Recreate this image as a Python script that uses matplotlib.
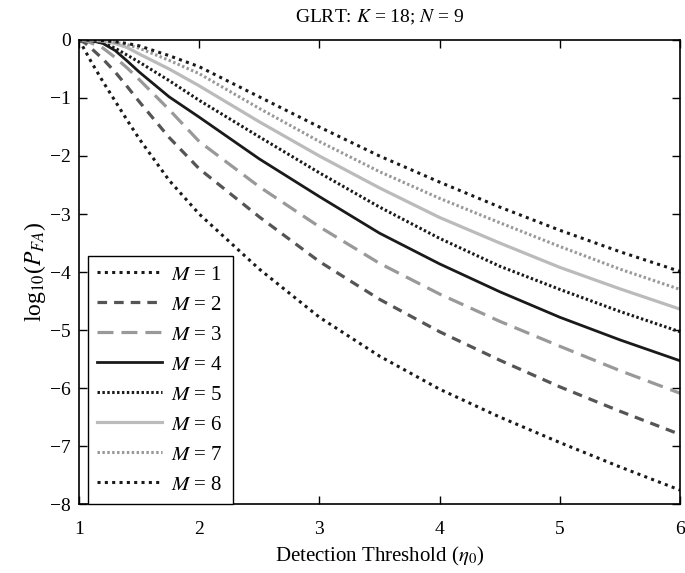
import matplotlib
matplotlib.use('Agg')
import matplotlib.pyplot as plt

plt.rcParams['font.family'] = ['Liberation Serif', 'DejaVu Serif']
plt.rcParams['mathtext.fontset'] = 'stix'

# Detection threshold grid and log10(P_FA)
eta = [1, 1.05, 1.1, 1.2, 1.3, 1.4, 1.5, 1.75, 2, 2.5, 3, 3.5, 4, 4.5, 5, 5.5, 6]
pfa_m1 = [0, -0.18, -0.37, -0.72, -1.05, -1.38, -1.7, -2.42, -3.0, -3.95, -4.78, -5.45, -6.02, -6.5, -6.94, -7.36, -7.76]
pfa_m2 = [0, -0.05, -0.14, -0.33, -0.55, -0.8, -1.06, -1.68, -2.22, -3.05, -3.82, -4.47, -5.03, -5.52, -5.98, -6.4, -6.8]
pfa_m3 = [0, -0.01, -0.05, -0.14, -0.3, -0.48, -0.68, -1.2, -1.75, -2.53, -3.22, -3.85, -4.38, -4.85, -5.28, -5.7, -6.09]
pfa_m4 = [0, 0, -0.01, -0.06, -0.18, -0.36, -0.55, -0.98, -1.33, -2.05, -2.7, -3.33, -3.86, -4.34, -4.78, -5.17, -5.53]
pfa_m5 = [0, 0, -0.01, -0.05, -0.14, -0.26, -0.38, -0.7, -1.04, -1.67, -2.29, -2.88, -3.42, -3.9, -4.3, -4.68, -5.03]
pfa_m6 = [0, 0, 0, -0.02, -0.06, -0.13, -0.24, -0.5, -0.79, -1.41, -2.0, -2.55, -3.06, -3.5, -3.92, -4.29, -4.64]
pfa_m7 = [0, 0, 0, -0.01, -0.04, -0.08, -0.14, -0.35, -0.58, -1.18, -1.75, -2.27, -2.73, -3.15, -3.56, -3.95, -4.3]
pfa_m8 = [0, 0, 0, -0.01, -0.03, -0.06, -0.1, -0.27, -0.46, -0.98, -1.5, -2.0, -2.45, -2.88, -3.28, -3.65, -3.99]

series = [pfa_m1, pfa_m2, pfa_m3, pfa_m4, pfa_m5, pfa_m6, pfa_m7, pfa_m8]
labels = [r'$M$ = %d' % m for m in range(1, 9)]
styles = [
    dict(color='#1a1a1a', ls=(0, (1, 1.4)), lw=2.2),
    dict(color='#555555', ls=(0, (3, 2.2)), lw=2.3),
    dict(color='#999999', ls=(0, (5, 2.5)), lw=2.3),
    dict(color='#1a1a1a', ls='-', lw=2.0),
    dict(color='#1a1a1a', ls=(0, (0.8, 0.8)), lw=2.2),
    dict(color='#bbbbbb', ls='-', lw=2.3),
    dict(color='#999999', ls=(0, (0.8, 0.8)), lw=2.2),
    dict(color='#1a1a1a', ls=(0, (1, 1.4)), lw=2.2),
]

fig = plt.figure(figsize=(6.85, 5.73), dpi=100)
ax = fig.add_axes([0.1153, 0.1204, 0.8774, 0.8098])
for vals, lab, st in zip(series, labels, styles):
    ax.plot(eta, vals, label=lab, **st)

ax.set_xlim(1, 6)
ax.set_ylim(-8, 0)
ax.set_xticks(range(1, 7))
ax.set_yticks(range(-8, 1))
ax.tick_params(direction='in', top=True, right=True, labelsize=14, length=6, width=1)
ax.tick_params(axis='x', pad=12)
ax.tick_params(axis='y', pad=6)
for s in ax.spines.values():
    s.set_linewidth(1.2)
ax.set_xlabel(r'Detection Threshold ($\eta_0$)', fontsize=15, labelpad=5)
ax.set_ylabel(r'log$_{10}$($P_{FA}$)', fontsize=17, labelpad=1)
ax.set_title(r'GLRT: $K$ = 18; $N$ = 9', fontsize=14, pad=13)

leg = ax.legend(loc='lower left', bbox_to_anchor=(0.015, 0.0), borderaxespad=0, fontsize=15,
                handlelength=3.1, handletextpad=0.45, labelspacing=0.5, fancybox=False,
                framealpha=1, edgecolor='black', borderpad=0.45)
leg.get_frame().set_linewidth(1.0)

fig.savefig('out.png', dpi=100)
